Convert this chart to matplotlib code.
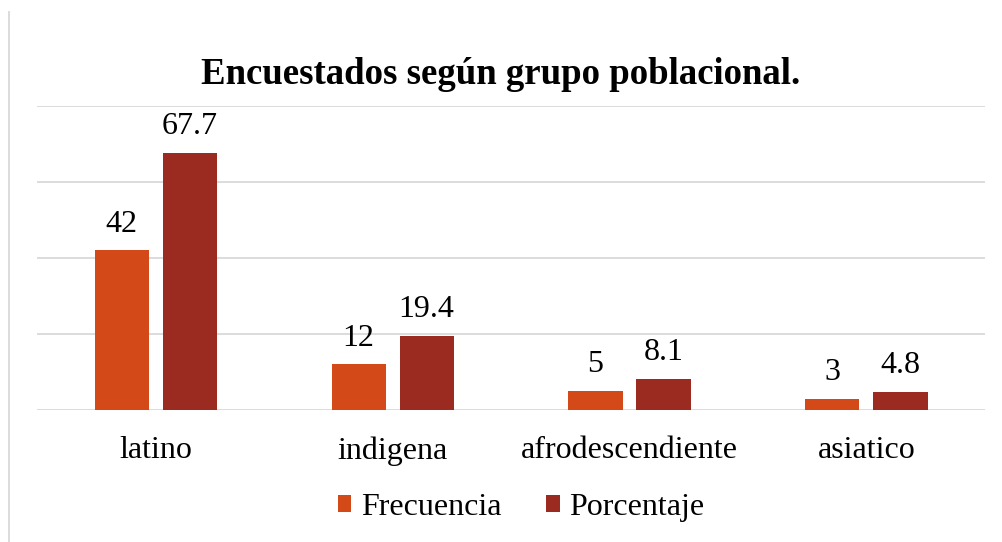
import numpy as np
import matplotlib.pyplot as plt
from matplotlib.lines import Line2D

plt.rcParams['font.family'] = ['Liberation Serif', 'DejaVu Serif']

# Data
grupos = ["latino", "indigena", "afrodescendiente", "asiatico"]
frecuencia = [42, 12, 5, 3]
porcentaje = [67.7, 19.4, 8.1, 4.8]
freq_labels = ["42", "12", "5", "3"]
pct_labels = ["67.7", "19.4", "8.1", "4.8"]

c_freq = "#D34A18"
c_pct = "#9B2B21"

fig = plt.figure(figsize=(10.02, 5.42), dpi=100)
ax = fig.add_axes([0.037, 0.2435, 0.946, 0.5609])

x = np.arange(len(grupos))
w = 0.228
off = 0.1435
b1 = ax.bar(x - off, frecuencia, w, color=c_freq, label="Frecuencia", zorder=3)
b2 = ax.bar(x + off, porcentaje, w, color=c_pct, label="Porcentaje", zorder=3)

for bars, labs in ((b1, freq_labels), (b2, pct_labels)):
    for rect, lab in zip(bars, labs):
        ax.annotate(lab, (rect.get_x() + rect.get_width() / 2, rect.get_height()),
                    xytext=(0, 8.5), textcoords="offset points",
                    ha="center", va="bottom", fontsize=23)

ax.set_xlim(-0.5, len(grupos) - 0.5)
ax.set_ylim(0, 80)
ax.set_yticks([0, 20, 40, 60, 80])
ax.set_yticklabels([])
ax.yaxis.grid(True, color="#D9D9D9", linewidth=1.3, zorder=0)
ax.tick_params(axis="y", length=0)
ax.tick_params(axis="x", length=0, pad=19, labelsize=23)
ax.set_xticks(x)
ax.set_xticklabels(grupos)
for s in ax.spines.values():
    s.set_visible(False)

fig.text(0.5, 0.862, "Encuestados según grupo poblacional.", ha="center", va="center",
         fontsize=26.5, fontweight="bold")

fig.legend(handles=[b1, b2], loc="center", bbox_to_anchor=(0.52, 0.064), ncol=2,
           frameon=False, fontsize=23, handlelength=0.42, handleheight=0.42,
           handletextpad=0.3, columnspacing=1.4)

fig.add_artist(Line2D([0.0085, 0.0085], [0.0, 0.978], color="#D9D9D9", linewidth=1.3))

fig.savefig("out.png", dpi=100)
